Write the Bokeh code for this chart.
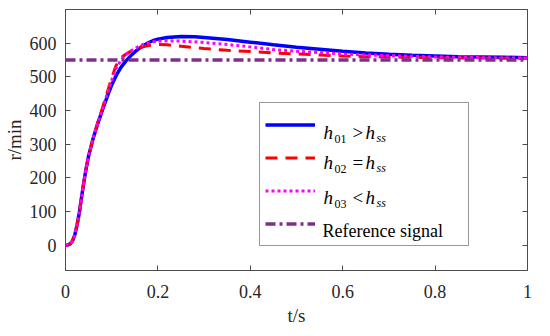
from bokeh.plotting import figure
from bokeh.models import (LinearAxis, FixedTicker, Range1d, Legend, LegendItem, Label)
from bokeh.embed import file_html
from bokeh.resources import INLINE

# ---- data ----
t = [0, 0.005, 0.01, 0.015, 0.02, 0.025, 0.03, 0.035, 0.04, 0.045, 0.05, 0.06, 0.07,
     0.08, 0.09, 0.10, 0.11, 0.12, 0.13, 0.14, 0.15, 0.16, 0.17, 0.18, 0.19, 0.20,
     0.22, 0.25, 0.28, 0.30, 0.35, 0.40, 0.45, 0.50, 0.55, 0.60, 0.65, 0.70, 0.75,
     0.80, 0.85, 0.90, 0.95, 1.00]
h01 = [0, 1, 4, 12, 30, 60, 97, 145, 190, 230, 265, 318, 362, 402, 440, 476, 505, 528,
       546, 561, 574, 585, 594, 602, 608, 612, 617, 620, 619, 617, 611, 603, 595, 588,
       582, 576, 571, 567, 564, 562, 560, 559, 558, 557]
h02 = [0, 1, 4, 12, 30, 60, 97, 145, 190, 230, 265, 318, 365, 408, 452, 497, 535, 556,
       567, 575, 581, 586, 590, 593, 595, 596, 595, 591, 587, 584, 579, 575, 571, 568,
       565, 562, 560, 559, 558, 557, 556, 556, 555, 555]
h03 = [0, 1, 4, 12, 30, 60, 97, 145, 190, 230, 265, 318, 364, 405, 448, 490, 526, 550,
       565, 576, 584, 591, 597, 601, 604, 606, 607, 606, 604, 602, 596, 589, 581, 576,
       572, 568, 565, 563, 561, 559, 558, 557, 556, 556]
t_ref = [0, 1]
ref = [550, 550]

x_ticks = [0, 0.2, 0.4, 0.6, 0.8, 1.0]
x_tick_labels = ["0", "0.2", "0.4", "0.6", "0.8", "1"]
y_ticks = [0, 100, 200, 300, 400, 500, 600]

FONT = "Liberation Serif"
AX = "#4d4d4d"
TXT = "#262626"

p = figure(width=534, height=328, output_backend="svg", toolbar_location=None,
           x_range=Range1d(0, 1), y_range=Range1d(-75, 700),
           min_border_left=56, min_border_right=7, min_border_top=9, min_border_bottom=10)
p.grid.visible = False
p.outline_line_color = AX
p.background_fill_color = "white"

r1 = p.line(t, h01, line_color="#0000ff", line_width=3.5)
r2 = p.line(t, h02, line_color="#ff0000", line_width=3, line_dash="12 8")
r3 = p.line(t, h03, line_color="#ff00ff", line_width=3, line_dash="3 3")
r4 = p.line(t_ref, ref, line_color="#7e2f8e", line_width=3.5, line_dash="10 4 3 4")

def style(ax, ticks, show):
    ax.ticker = FixedTicker(ticks=ticks)
    ax.axis_line_color = AX
    ax.major_tick_line_color = AX
    ax.major_tick_in = 5
    ax.major_tick_out = 0
    ax.minor_tick_line_color = None
    ax.major_label_text_font = FONT
    ax.major_label_text_color = TXT
    ax.axis_label_text_font = FONT
    ax.axis_label_text_font_style = "normal"
    ax.axis_label_text_color = TXT
    if not show:
        ax.major_label_overrides = {v: "" for v in ticks}
        ax.major_label_text_font_size = "1px"
        ax.major_label_standoff = 0

xa = p.xaxis[0]
style(xa, x_ticks, True)
xa.major_label_overrides = {v: s for v, s in zip(x_ticks, x_tick_labels)}
xa.major_label_text_font_size = "18px"
xa.major_label_standoff = 14
xa.axis_label = "t/s"
xa.axis_label_text_font_size = "19px"
xa.axis_label_standoff = 4

ya = p.yaxis[0]
style(ya, y_ticks, True)
ya.major_label_text_font_size = "18px"
ya.major_label_standoff = 9
ya.axis_label = "r/min"
ya.axis_label_text_font_size = "19px"
ya.axis_label_standoff = 2

top = LinearAxis()
style(top, x_ticks, False)
p.add_layout(top, "above")
right = LinearAxis()
style(right, y_ticks, False)
p.add_layout(right, "right")

legend = Legend(items=[LegendItem(label=" ", renderers=[r]) for r in (r1, r2, r3, r4)],
                location=(194, 24), glyph_width=50, glyph_height=33, label_height=33,
                label_width=140, label_standoff=8, spacing=0, padding=5, margin=0,
                border_line_color="#333333", border_line_width=1.2,
                label_text_font_size="10px", background_fill_alpha=0)
p.add_layout(legend, "center")

# legend text (screen units relative to the plot frame)
def lab(x, y, s, size, style="normal"):
    p.add_layout(Label(x=x, y=y, x_units="screen", y_units="screen", text=s,
                       text_font=FONT, text_font_size=size, text_font_style=style,
                       text_color="black", text_baseline="alphabetic", text_align="left",
                       level="overlay"))

rows = [(137.7, "01", ">"), (107.7, "02", "="), (72.7, "03", "<")]
for base, sub, op in rows:
    lab(258, base, "h", "19px", "italic")
    lab(269, base - 6, sub, "12px")
    lab(287, base, op, "19px")
    lab(300, base, "h", "19px", "italic")
    lab(311, base - 5, "ss", "12px", "italic")
lab(257, 39.3, "Reference signal", "18px")

open("out.html", "w").write(file_html(p, INLINE))
